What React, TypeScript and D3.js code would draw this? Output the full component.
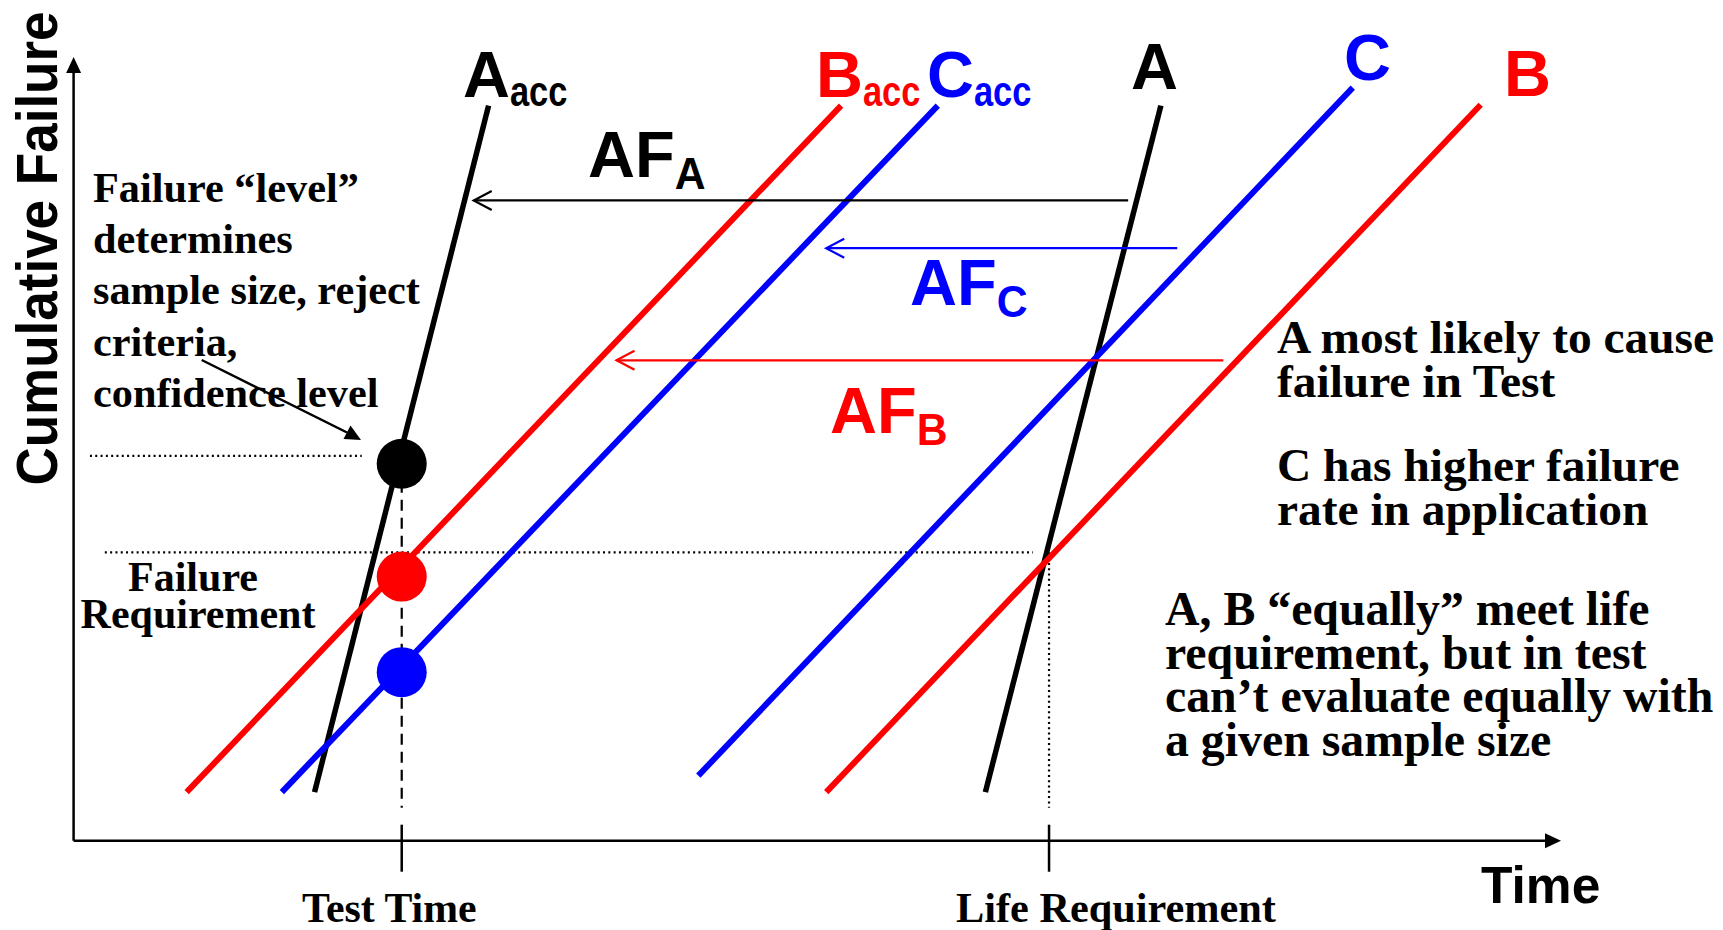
import React from 'react';
import * as d3 from 'd3';

// ---------- data ----------
const seriesNames = ['Aacc', 'Bacc', 'Cacc', 'A', 'B', 'C'];
const seriesGroup = ['A', 'B', 'C', 'A', 'B', 'C'];
const seriesStartTime = [16.2, 7.6, 14.0, 61.3, 50.6, 42.0];
const seriesStartFailure = [6.2, 6.2, 6.2, 6.2, 6.2, 8.3];
const seriesEndTime = [27.9, 51.6, 58.1, 73.1, 94.6, 86.0];
const seriesEndFailure = [93.8, 93.8, 93.8, 93.8, 93.9, 96.1];

const testTime = 22.06;
const lifeRequirement = 65.58;
const testPointGroup = ['A', 'B', 'C'];
const testPointFailure = [48.1, 33.7, 21.5];
const failureRequirement = 36.8;
const confidenceLevel = 49.1;

const afGroup = ['A', 'C', 'B'];
const afLevel = [81.7, 75.6, 61.3];
const afFromTime = [70.9, 74.2, 77.3];
const afToTime = [26.9, 50.6, 36.5];

const xTickValues = [testTime, lifeRequirement];
const xTickLabels = ['Test Time', 'Life Requirement'];

const leftNote = ['Failure \u201clevel\u201d', 'determines', 'sample size, reject', 'criteria,', 'confidence level'];
const reqNote = ['Failure', 'Requirement'];
const note1 = ['A most likely to cause', 'failure in Test'];
const note2 = ['C has higher failure', 'rate in application'];
const note3 = ['A, B \u201cequally\u201d meet life', 'requirement, but in test', 'can\u2019t evaluate equally with', 'a given sample size'];

// ---------- styles / layout ----------
const W = 1723;
const H = 930;
const colors: Record<string, string> = { A: '#000000', B: '#ff0000', C: '#0000ff' };
const SANS = '"Liberation Sans", Arial, sans-serif';
const SERIF = '"Liberation Serif", "Times New Roman", serif';

const seriesLabelPos: Record<string, [number, number]> = {
  Aacc: [463, 97], Bacc: [816, 97], Cacc: [927, 97], A: [1131, 89], C: [1344, 80], B: [1504, 96],
};
const afLabelPos: Record<string, [number, number]> = { A: [588, 177], C: [910, 305], B: [830, 433] };
const tickLabelX = [302, 956];
const tickLabelSize = [41.8, 42.3];

export default function App() {
  const x = d3.scaleLinear().domain([0, 100]).range([73.6, 1561]);
  const y = d3.scaleLinear().domain([0, 100]).range([840.7, 57]);
  const x0 = x(0), y0 = y(0);
  const line = d3.line<[number, number]>().x(d => x(d[0])).y(d => y(d[1]));

  const arrowHead = (tx: number, ty: number, dir: 'up' | 'right') => {
    if (dir === 'up') return `M${tx},${ty} L${tx - 7.5},${ty + 16} L${tx + 7.5},${ty + 16} Z`;
    return `M${tx},${ty} L${tx - 16},${ty - 7.5} L${tx - 16},${ty + 7.5} Z`;
  };

  // main letter width ratios (Arial bold): A, B, C = 0.722; F = 0.611
  const mainWidth = (s: string, size: number) =>
    s.split('').reduce((w, c) => w + (c === 'F' ? 0.611 : 0.722), 0) * size;

  const subLabel = (main: string, sub: string, px: number, py: number, color: string,
    subSize: number, dy: number, squeeze: number) => {
    const sx = px + mainWidth(main, 65);
    return (
      <g>
        <text x={px} y={py} fill={color} fontFamily={SANS} fontWeight="bold" fontSize={65}>{main}</text>
        <text transform={`translate(${sx},${py + dy}) scale(${squeeze},1)`} fill={color}
          fontFamily={SANS} fontWeight="bold" fontSize={subSize}>{sub}</text>
      </g>
    );
  };

  return (
    <svg width={W} height={H} viewBox={`0 0 ${W} ${H}`} style={{ position: 'absolute', left: 0, top: 0, background: '#fff' }}>
      <rect x={0} y={0} width={W} height={H} fill="#fff" />

      {/* axes */}
      <line x1={x0} y1={y0} x2={x0} y2={y(100) + 14} stroke="#000" strokeWidth={2.5} />
      <path d={arrowHead(x0, y(100), 'up')} fill="#000" />
      <line x1={x0} y1={y0} x2={x(100) - 14} y2={y0} stroke="#000" strokeWidth={2.5} />
      <path d={arrowHead(x(100), y0, 'right')} fill="#000" />

      {/* ticks */}
      {xTickValues.map((t, i) => (
        <g key={i}>
          <line x1={x(t)} x2={x(t)} y1={y0 - 16} y2={y0 + 31} stroke="#000" strokeWidth={2.5} />
          <text x={tickLabelX[i]} y={922} fontFamily={SERIF} fontWeight="bold" fontSize={tickLabelSize[i]}>
            {xTickLabels[i]}
          </text>
        </g>
      ))}

      {/* reference lines */}
      <line x1={x(testTime)} x2={x(testTime)} y1={y(testPointFailure[0])} y2={y0 - 33}
        stroke="#000" strokeWidth={2.2} strokeDasharray="11 7" />
      <line x1={x(lifeRequirement)} x2={x(lifeRequirement)} y1={y(failureRequirement)} y2={y0 - 33}
        stroke="#000" strokeWidth={2.2} strokeDasharray="2 3.3" />
      <line x1={x(2.1)} x2={x(lifeRequirement) - 16} y1={y(failureRequirement)} y2={y(failureRequirement)}
        stroke="#000" strokeWidth={2.2} strokeDasharray="2 3.3" />
      <line x1={x(1.1)} x2={x(testTime) - 40} y1={y(confidenceLevel)} y2={y(confidenceLevel)}
        stroke="#000" strokeWidth={2.2} strokeDasharray="2 3.3" />

      {/* series lines */}
      {seriesNames.map((n, i) => (
        <path key={n}
          d={line([[seriesStartTime[i], seriesStartFailure[i]], [seriesEndTime[i], seriesEndFailure[i]]]) || ''}
          stroke={colors[seriesGroup[i]]} strokeWidth={seriesGroup[i] === 'A' ? 5.5 : 6} fill="none" />
      ))}

      {/* test points */}
      {testPointGroup.map((g, i) => (
        <circle key={g} cx={x(testTime)} cy={y(testPointFailure[i])} r={25} fill={colors[g]} />
      ))}

      {/* acceleration factor arrows */}
      {afGroup.map((g, i) => {
        const x1 = x(afFromTime[i]), x2 = x(afToTime[i]), yy = y(afLevel[i]);
        return (
          <g key={g}>
            <line x1={x1} x2={x2} y1={yy} y2={yy} stroke={colors[g]} strokeWidth={2.2} />
            <path d={`M${x2 + 18},${yy - 9.5} L${x2},${yy} L${x2 + 18},${yy + 9.5}`} stroke={colors[g]} strokeWidth={2.2} fill="none" />
          </g>
        );
      })}

      {/* series labels */}
      {seriesNames.map((n, i) => {
        const [px, py] = seriesLabelPos[n];
        const main = n.charAt(0);
        const sub = n.slice(1);
        return <g key={n}>{subLabel(main, sub, px, py, colors[seriesGroup[i]], 42, 9, 0.82)}</g>;
      })}

      {/* AF labels */}
      {afGroup.map(g => {
        const [px, py] = afLabelPos[g];
        return <g key={g}>{subLabel('AF', g, px, py, colors[g], 45, 12, 0.95)}</g>;
      })}

      {/* axis titles */}
      <text transform="translate(57,248.5) scale(1.08,1) rotate(-90)" textAnchor="middle"
        fontFamily={SANS} fontWeight="bold" fontSize={53}>Cumulative Failure</text>
      <text x={1481} y={903} fontFamily={SANS} fontWeight="bold" fontSize={51.5}>Time</text>

      {/* notes */}
      {leftNote.map((s, i) => (
        <text key={i} x={93} y={202 + i * 51.2} fontFamily={SERIF} fontWeight="bold" fontSize={42.3}>{s}</text>
      ))}
      <line x1={201.7} y1={360} x2={347} y2={432.5} stroke="#000" strokeWidth={2.5} />
      <path d="M361,440 L343.5,439 L350.5,425.5 Z" fill="#000" />

      <text x={193} y={591} textAnchor="middle" fontFamily={SERIF} fontWeight="bold" fontSize={42}>{reqNote[0]}</text>
      <text x={198} y={628} textAnchor="middle" fontFamily={SERIF} fontWeight="bold" fontSize={42}>{reqNote[1]}</text>

      {note1.map((s, i) => (
        <text key={i} x={1277} y={353 + i * 44} fontFamily={SERIF} fontWeight="bold" fontSize={47.4}>{s}</text>
      ))}
      {note2.map((s, i) => (
        <text key={i} x={1277} y={481 + i * 44} fontFamily={SERIF} fontWeight="bold" fontSize={47.4}>{s}</text>
      ))}
      {note3.map((s, i) => (
        <text key={i} x={1165} y={625 + i * 43.5} fontFamily={SERIF} fontWeight="bold" fontSize={47.8}>{s}</text>
      ))}
    </svg>
  );
}
